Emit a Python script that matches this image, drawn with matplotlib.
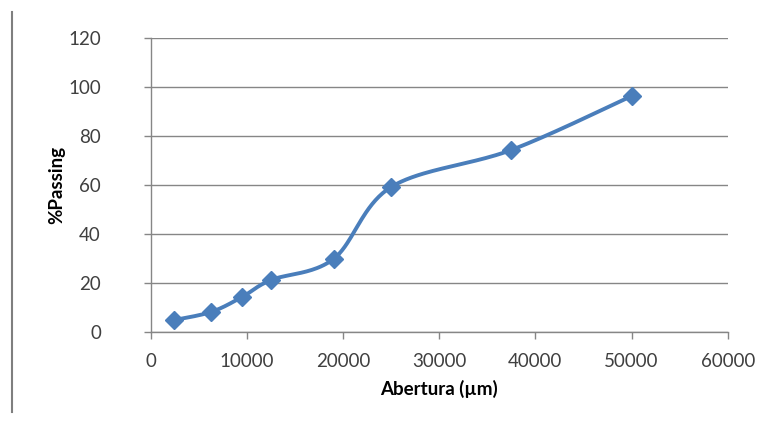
import numpy as np
import matplotlib
matplotlib.use('Agg')
import matplotlib.pyplot as plt

# granulometria: abertura da peneira (um) x % passante
abertura = [2360, 6300, 9500, 12500, 19000, 25000, 37500, 50000]
passing = [4.8, 8.2, 14.3, 21.2, 29.8, 59.2, 74.3, 96.3]

x_ticks = [0, 10000, 20000, 30000, 40000, 50000, 60000]
y_ticks = [0, 20, 40, 60, 80, 100, 120]

plt.rcParams['font.family'] = ['Lato', 'DejaVu Sans']


def smooth_curve(xs, ys, n=40):
    # curva suavizada tipo Excel (Bezier com tangentes Catmull-Rom)
    xs = np.asarray(xs, float)
    ys = np.asarray(ys, float)
    px, py = [], []
    for i in range(len(xs) - 1):
        i0 = max(i - 1, 0)
        i3 = min(i + 2, len(xs) - 1)
        p0 = np.array([xs[i], ys[i]])
        p1 = np.array([xs[i + 1], ys[i + 1]])
        c1 = p0 + (p1 - np.array([xs[i0], ys[i0]])) / 6.0
        c2 = p1 - (np.array([xs[i3], ys[i3]]) - p0) / 6.0
        t = np.linspace(0, 1, n)[:, None]
        pts = ((1 - t) ** 3) * p0 + 3 * ((1 - t) ** 2) * t * c1 + 3 * (1 - t) * t ** 2 * c2 + t ** 3 * p1
        px.extend(pts[:, 0])
        py.extend(pts[:, 1])
    return np.array(px), np.array(py)


fig = plt.figure(figsize=(7.66, 4.25), dpi=100)
ax = fig.add_axes([0.197, 0.219, 0.753, 0.6916])

sx, sy = smooth_curve(abertura, passing)
ax.plot(sx, sy, color='#4A7EBB', linewidth=2.8, solid_capstyle='round', zorder=3)
ax.plot(abertura, passing, linestyle='none', marker='D', markersize=9.5,
        color='#4A7EBB', zorder=4)

ax.set_xlim(0, 60000)
ax.set_ylim(0, 120)
ax.set_xticks(x_ticks)
ax.set_yticks(y_ticks)
ax.tick_params(axis='both', labelsize=13.5, colors='#868686', labelcolor='#404040',
               length=5, width=1, direction='out')
ax.tick_params(axis='y', pad=31)
ax.tick_params(axis='x', pad=10)
ax.yaxis.grid(True, color='#868686', linewidth=1)
ax.set_axisbelow(True)
for side in ['top', 'right']:
    ax.spines[side].set_visible(False)
for side in ['left', 'bottom']:
    ax.spines[side].set_color('#868686')
    ax.spines[side].set_linewidth(1)

ax.set_xlabel('Abertura (µm)', fontsize=13.5, fontweight='bold', labelpad=7)
ax.set_ylabel('%Passing', fontsize=13.5, fontweight='bold', labelpad=2)

# linha vertical de borda à esquerda
fig.add_artist(plt.Line2D([12 / 766, 12 / 766], [1 - 12 / 425, 1 - 412 / 425],
                          color='#7F7F7F', linewidth=1.5))

fig.savefig('out.png', dpi=100)
